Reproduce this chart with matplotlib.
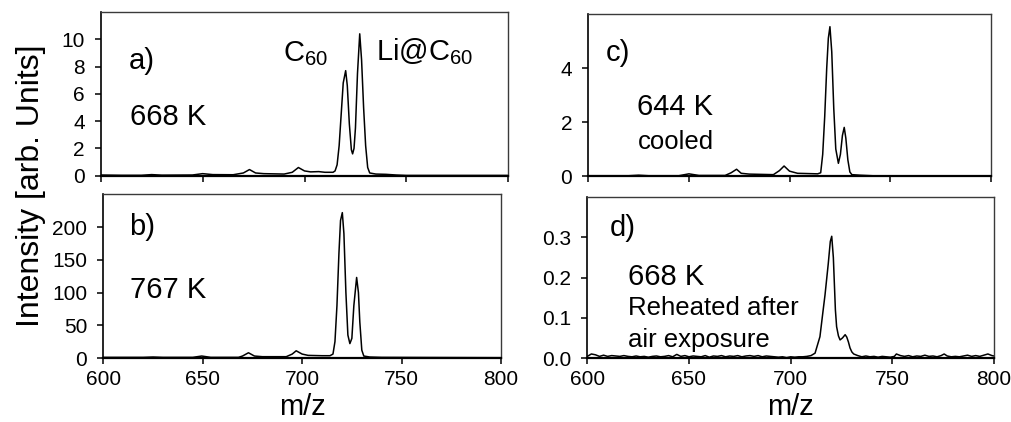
import matplotlib
matplotlib.use("Agg")
import matplotlib.pyplot as plt
from matplotlib.ticker import FixedLocator, FormatStrFormatter

plt.rcParams['font.family'] = ['Liberation Sans', 'DejaVu Sans']
plt.rcParams['mathtext.fontset'] = 'custom'
plt.rcParams['mathtext.rm'] = 'Liberation Sans'
plt.rcParams['mathtext.it'] = 'Liberation Sans:italic'

# ---- data ----
mz_a = [600, 610, 620, 625, 630, 645, 650, 655, 665, 670, 673, 676, 680, 690, 694, 697, 700,
        703, 707, 710, 714, 715, 716, 717, 718, 719, 720.2, 721, 722, 723, 723.6, 724.3, 725,
        726, 727.1, 728, 729, 730, 731, 732, 735, 740, 745, 750, 800]
int_a = [0.05, 0.03, 0.03, 0.08, 0.04, 0.05, 0.15, 0.08, 0.07, 0.2, 0.45, 0.2, 0.15, 0.12, 0.25,
         0.6, 0.35, 0.28, 0.3, 0.25, 0.25, 0.35, 0.8, 2.2, 4.5, 6.8, 7.7, 6.6, 3.8, 1.9, 1.6, 2.0,
         3.5, 7.5, 10.4, 8.5, 5.0, 2.2, 0.6, 0.2, 0.12, 0.1, 0.05, 0.02, 0.02]

mz_b = [600, 620, 625, 630, 645, 649.5, 654, 668, 670, 673, 676, 680, 692, 695, 697, 700, 703,
        710, 714, 715.5, 716.5, 717.5, 718.5, 719.3, 720.2, 721, 722, 723, 724, 725, 726, 727.4,
        728.3, 729, 730, 731, 734, 740, 800]
int_b = [1, 1, 1.5, 1, 1, 3, 1, 1, 3, 8, 3, 2, 2, 6, 11, 6, 4, 3.5, 3.5, 6, 25, 80, 160, 210,
         222, 190, 100, 35, 22, 30, 80, 123, 100, 55, 12, 3, 1.5, 1, 0.5]

mz_c = [600, 620, 625, 630, 645, 650, 655, 668, 671, 673.7, 676, 680, 692, 695, 697.3, 700, 704,
        714, 715.5, 716.5, 717.5, 718.5, 719.3, 720.1, 721, 722, 723, 724.3, 725.3, 726.3, 727.2,
        728, 729, 730, 731, 735, 741]
int_c = [0.01, 0.01, 0.03, 0.01, 0.01, 0.08, 0.02, 0.02, 0.12, 0.25, 0.1, 0.07, 0.05, 0.2, 0.37,
         0.18, 0.1, 0.08, 0.12, 0.8, 2.2, 4.0, 5.1, 5.53, 4.6, 2.5, 1.0, 0.47, 0.8, 1.5, 1.8, 1.4,
         0.6, 0.15, 0.05, 0.03, 0.01]

mz_d = [600, 602, 604, 606, 608, 610, 612, 614, 616, 618, 620, 622, 624, 626, 628, 630, 632, 634,
        636, 638, 640, 642, 644, 646, 648, 650, 652, 654, 656, 658, 660, 662, 664, 666, 668, 670,
        672, 674, 676, 678, 680, 682, 684, 686, 688, 690, 692, 694, 696, 698, 700, 702, 704, 706,
        708, 710, 712, 714.4, 716, 716.9, 718.5, 719.5, 720.2, 721, 722, 722.6, 723.5, 724.3,
        725.5, 726.8, 727.6, 728.4, 729.2, 730.1, 731, 733, 735, 737, 739, 741, 743, 745, 747,
        749, 751, 752, 754, 756, 758, 760, 762, 764, 766, 768, 770, 772, 774, 775.5, 777, 779,
        781, 783, 785, 787, 789, 791, 793, 795, 797, 799, 800]
int_d = [0.004, 0.01, 0.008, 0.004, 0.007, 0.004, 0.006, 0.005, 0.004, 0.006, 0.004, 0.003,
         0.005, 0.003, 0.004, 0.002, 0.004, 0.005, 0.003, 0.004, 0.006, 0.003, 0.009, 0.004,
         0.006, 0.003, 0.005, 0.004, 0.003, 0.006, 0.002, 0.005, 0.004, 0.006, 0.003, 0.005,
         0.004, 0.006, 0.003, 0.005, 0.006, 0.004, 0.006, 0.003, 0.005, 0.004, 0.003, 0.002,
         0.003, 0.001, 0.003, 0.002, 0.003, 0.003, 0.004, 0.006, 0.012, 0.053, 0.12, 0.157,
         0.235, 0.29, 0.303, 0.25, 0.12, 0.078, 0.055, 0.045, 0.05, 0.058, 0.052, 0.04, 0.025,
         0.015, 0.01, 0.006, 0.003, 0.005, 0.003, 0.004, 0.002, 0.004, 0.003, 0.002, 0.004, 0.01,
         0.006, 0.004, 0.006, 0.003, 0.005, 0.004, 0.007, 0.004, 0.005, 0.003, 0.006, 0.01, 0.005,
         0.003, 0.004, 0.003, 0.005, 0.007, 0.004, 0.006, 0.004, 0.007, 0.01, 0.006, 0.005]

x_ticks = [600, 650, 700, 750, 800]
y_ticks_a = [0, 2, 4, 6, 8, 10]
y_ticks_b = [0, 50, 100, 150, 200]
y_ticks_c = [0, 2, 4]
y_ticks_d = [0.0, 0.1, 0.2, 0.3]

W, H = 1011, 422
fig = plt.figure(figsize=(W / 100, H / 100), dpi=100)


def px_axes(left, top, right, bottom):
    return fig.add_axes([left / W, 1 - bottom / H, (right - left) / W, (bottom - top) / H])


ax_a = px_axes(100.7, 12, 508.3, 175.7)
ax_b = px_axes(103.3, 194.3, 501, 358)
ax_c = px_axes(588.3, 14, 990.7, 176)
ax_d = px_axes(587.3, 197.3, 994, 358)

panels = [
    (ax_a, mz_a, int_a, y_ticks_a, 12, False),
    (ax_b, mz_b, int_b, y_ticks_b, 250, True),
    (ax_c, mz_c, int_c, y_ticks_c, 6, False),
    (ax_d, mz_d, int_d, y_ticks_d, 0.4, True),
]

for ax, x, y, yt, ymax, show_x in panels:
    ax.plot(x, y, color='black', lw=1.1, solid_joinstyle='round')
    ax.set_xlim(600, 800)
    ax.set_ylim(0, ymax)
    ax.xaxis.set_major_locator(FixedLocator(x_ticks))
    ax.yaxis.set_major_locator(FixedLocator(yt))
    ax.tick_params(axis='both', direction='out', length=4.5, width=1.1, labelsize=15,
                   colors='black')
    ax.tick_params(axis='y', pad=7)
    ax.tick_params(axis='x', pad=4, labelbottom=show_x)
    for s in ('top', 'right'):
        ax.spines[s].set_color('#3a3a3a')
        ax.spines[s].set_linewidth(1.0)
    ax.spines['left'].set_color('black')
    ax.spines['left'].set_linewidth(1.2)
    ax.spines['bottom'].set_color('black')
    ax.spines['bottom'].set_linewidth(1.6)
    if show_x:
        ax.set_xlabel('m/z', fontsize=21, labelpad=3)

ax_d.yaxis.set_major_formatter(FormatStrFormatter('%.1f'))

fs_big = 21
fs_small = 18.5
ax_a.text(0.07, 0.70, 'a)', transform=ax_a.transAxes, fontsize=fs_big, va='center')
ax_a.text(0.072, 0.356, '668 K', transform=ax_a.transAxes, fontsize=fs_big, va='center')
ax_a.text(0.4475, 0.746, r'C$_{\mathregular{60}}$', transform=ax_a.transAxes, fontsize=fs_big,
          va='center')
ax_a.text(0.676, 0.756, r'Li@C$_{\mathregular{60}}$', transform=ax_a.transAxes, fontsize=fs_big,
          va='center')

ax_b.text(0.065, 0.80, 'b)', transform=ax_b.transAxes, fontsize=fs_big, va='center')
ax_b.text(0.067, 0.415, '767 K', transform=ax_b.transAxes, fontsize=fs_big, va='center')

ax_c.text(0.044, 0.757, 'c)', transform=ax_c.transAxes, fontsize=fs_big, va='center')
ax_c.text(0.122, 0.428, '644 K', transform=ax_c.transAxes, fontsize=fs_big, va='center')
ax_c.text(0.122, 0.21, 'cooled', transform=ax_c.transAxes, fontsize=fs_small, va='center')

ax_d.text(0.056, 0.806, 'd)', transform=ax_d.transAxes, fontsize=fs_big, va='center')
ax_d.text(0.101, 0.505, '668 K', transform=ax_d.transAxes, fontsize=fs_big, va='center')
ax_d.text(0.101, 0.309, 'Reheated after', transform=ax_d.transAxes, fontsize=fs_small,
          va='center')
ax_d.text(0.101, 0.112, 'air exposure', transform=ax_d.transAxes, fontsize=fs_small,
          va='center')

fig.text(31 / W, 1 - 186 / H, 'Intensity [arb. Units]', rotation=90, fontsize=23,
         ha='center', va='center')

fig.savefig('out.png', dpi=100)
